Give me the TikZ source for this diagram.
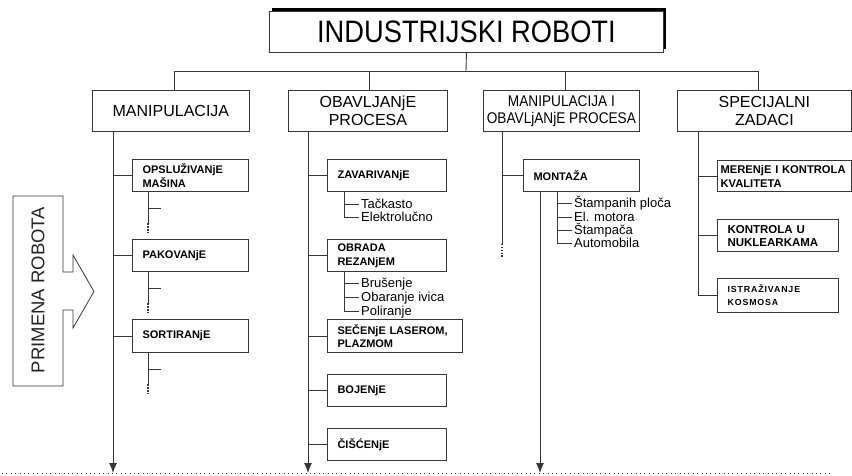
\documentclass[tikz,border=0pt]{standalone}
\usepackage{fontspec}
\setmainfont{Liberation Sans}
\newfontfamily\narrowsans[FakeStretch=0.88]{Liberation Sans}
\newfontfamily\spacedsans[LetterSpace=10]{Liberation Sans}
\usetikzlibrary{arrows.meta,shadows}
\definecolor{lngray}{RGB}{55,55,55}
\definecolor{txtgray}{RGB}{35,35,35}
\tikzstyle{topbox} = [rectangle, draw=lngray, line width=0.9pt, fill=white, anchor=north west, minimum width=394pt, minimum height=41pt, font=\narrowsans\fontsize{31}{33}\selectfont, drop shadow={shadow xshift=3pt, shadow yshift=3pt, fill=black, opacity=1}]
\tikzstyle{groupbox} = [rectangle, draw=lngray, line width=0.8pt, anchor=north west, minimum height=41pt, align=center, font=\fontsize{16}{18}\selectfont]
\tikzstyle{taskbox} = [rectangle, draw=lngray, line width=1.1pt, anchor=north west, inner xsep=10pt, text width=96pt, align=left, font=\bfseries\fontsize{11}{13.5}\selectfont]
\tikzstyle{item} = [anchor=west, inner sep=2pt, text height=9.3pt, text depth=0pt, font=\fontsize{13}{13}\selectfont]
\tikzstyle{trunk} = [line width=0.9pt, color=lngray]
\tikzstyle{arrow} = [trunk, -{Latex[length=10pt,width=8pt]}]
\tikzstyle{vdots} = [line width=1.8pt, color=lngray, dash pattern=on 1.6pt off 1.3pt]

\begin{document}
\begin{tikzpicture}[x=1pt, y=-1pt]
\useasboundingbox (0,0) rectangle (852,475);

% Title
\node[topbox] (root) at (269,11) {INDUSTRIJSKI ROBOTI};

% Main groups
\node[groupbox, minimum width=157pt] (mp) at (92,90) {MANIPULACIJA};
\node[groupbox, minimum width=159pt] (op) at (288,90) {OBAVLJANjE\\PROCESA};
\node[groupbox, minimum width=156pt, font=\narrowsans\fontsize{15.5}{17}\selectfont] (mo) at (483,90) {MANIPULACIJA I\\OBAVLjANjE PROCESA};
\node[groupbox, minimum width=174pt] (sz) at (677,90) {SPECIJALNI\\ZADACI};

% Bus
\coordinate (bus) at (466,71);
\draw[trunk] (root.south) -- (bus);
\draw[trunk] ([xshift=3.5pt]mp.north |- bus) -- ([xshift=-6pt]sz.north |- bus);
\foreach \g/\dx in {mp/3.5, op/1.5, mo/4, sz/-6}
  \draw[trunk] ([xshift=\dx pt]\g.north) -- ([xshift=\dx pt]\g.north |- bus);

% Column 1
\coordinate (e1) at (113,473);
\draw[arrow] ([xshift=21pt]mp.south west) -- (e1);
\node[taskbox, minimum height=32pt] (ops) at (132,159) {OPSLUŽIVANjE\\MAŠINA};
\node[taskbox, minimum height=32pt] (pak) at (132,239) {PAKOVANjE};
\node[taskbox, minimum height=33pt] (sor) at (132,319) {SORTIRANjE};
\foreach \t in {ops,pak,sor}{
  \draw[trunk] (\t.west) -- (\t.west -| e1);
  \draw[trunk] ([xshift=16pt]\t.south west) -- ++(0,31) coordinate (\t-d);
  \draw[trunk] ([xshift=16pt]\t.south west) ++(0,16) -- ++(13,0);
  \draw[vdots] (\t-d) -- ++(0,10);
}

% Column 2
\coordinate (e2) at (308,473);
\draw[arrow] ([xshift=20pt]op.south west) -- (e2);
\node[taskbox, minimum height=32pt, text width=99pt] (zav) at (327,159) {ZAVARIVANjE};
\node[taskbox, minimum height=32pt, text width=99pt] (obr) at (327,239) {OBRADA\\REZANjEM};
\node[taskbox, minimum height=33pt, text width=115pt] (sec) at (327,319) {SEČENjE LASEROM,\\PLAZMOM};
\node[taskbox, minimum height=32pt, text width=99pt] (boj) at (327,374) {BOJENjE};
\node[taskbox, minimum height=32pt, text width=99pt] (cis) at (327,428) {ČIŠĆENjE};
\foreach \t in {zav,obr,sec,boj,cis}
  \draw[trunk] (\t.west) -- (\t.west -| e2);

% Welding and cutting
\node[item] (tac) at (359,204) {Tačkasto};
\node[item] (ele) at (359,217) {Elektrolučno};
\coordinate (zl) at ([xshift=17pt]zav.south west);
\draw[trunk] (zl) |- (ele.west);
\draw[trunk] (zl |- tac.west) -- (tac.west);

\node[item] (bru) at (359,283) {Brušenje};
\node[item] (oba) at (359,297) {Obaranje ivica};
\node[item] (pol) at (359,311) {Poliranje};
\coordinate (ol) at ([xshift=17pt]obr.south west);
\draw[trunk] (ol) |- (pol.west);
\foreach \i in {bru,oba} \draw[trunk] (ol |- \i.west) -- (\i.west);

% Column 3
\coordinate (e3) at (540,473);
\draw[trunk] ([xshift=19pt]mo.south west) -- ++(0,112) coordinate (mo-d);
\draw[vdots] (mo-d) -- ++(0,14);
\node[taskbox, minimum height=32pt] (mon) at (523,159) {MONTAŽA};
\draw[trunk] (mon.west) -- (mon.west -| mo-d);
\draw[arrow] ([xshift=17pt]mon.south west) -- (e3);

\node[item] (sta) at (572,203) {Štampanih ploča};
\node[item] (elm) at (572,217) {El. motora};
\node[item] (stp) at (572,230) {Štampača};
\node[item] (aut) at (572,243) {Automobila};
\coordinate (ml) at ([xshift=34pt]mon.south west);
\draw[trunk] (ml) |- (aut.west);
\foreach \i in {sta,elm,stp} \draw[trunk] (ml |- \i.west) -- (\i.west);

% Column 4
\coordinate (t4) at ([xshift=21pt]sz.south west);
\node[taskbox, minimum height=31pt, inner xsep=3pt, text width=128pt, font=\bfseries\fontsize{11.2}{14}\selectfont] (mer) at (717,160) {MERENjE I KONTROLA\\KVALITETA};
\node[taskbox, minimum height=32pt, text width=101pt, font=\bfseries\fontsize{11.5}{13}\selectfont] (kon) at (717,219) {KONTROLA U\\NUKLEARKAMA};
\node[taskbox, minimum height=34pt, text width=101pt, font=\spacedsans\bfseries\fontsize{8.8}{13}\selectfont] (ist) at (717,278) {ISTRAŽIVANJE\\KOSMOSA};
\draw[trunk] (t4) |- (ist.west);
\foreach \t in {mer,kon} \draw[trunk] (\t.west) -- (\t.west -| t4);

% Application arrow
\draw[lngray, line width=0.8pt] (13,196) -- (63,196) -- (63,272) -- (73,272) -- (73,255) -- (94,291.5) -- (73,328) -- (73,310) -- (63,310) -- (63,386) -- (13,386) -- cycle;
\node[rotate=90, font=\fontsize{18.5}{20}\selectfont, text=txtgray] (app) at (38,290) {PRIMENA ROBOTA};

% Baseline
\draw[lngray, line width=0.9pt, dash pattern=on 1pt off 3.4pt] (2,473) -- (830,473);
\end{tikzpicture}
\end{document}
